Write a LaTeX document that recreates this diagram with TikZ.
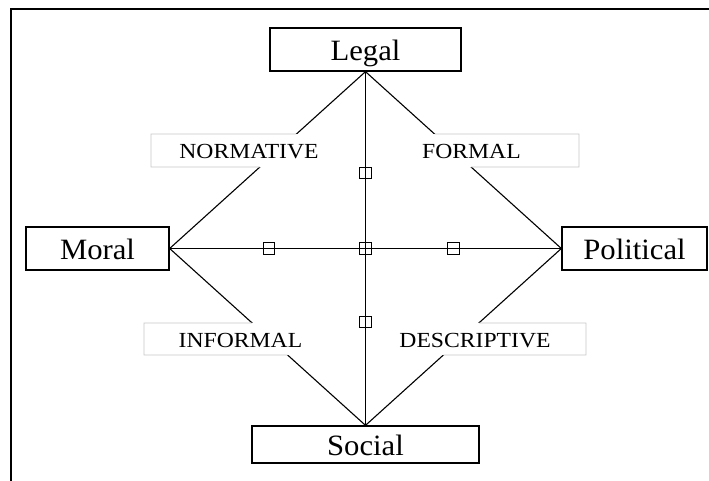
\documentclass[tikz,border=0pt]{standalone}
\usepackage{fontspec}
\setmainfont{Liberation Serif}
\begin{document}
\begin{tikzpicture}[x=1pt,y=-1pt,
  term/.style={draw=black, line width=1.3pt, minimum height=43pt, inner sep=0pt,
    text height=22pt, text depth=0pt, font=\fontsize{29.5}{30}\selectfont},
  link/.style={line width=1.1pt},
  tag/.style={fill=white, inner xsep=2pt, inner ysep=0pt, minimum height=33pt,
    text height=17pt, text depth=0pt, font=\fontsize{21.5}{22}\selectfont},
  tagrule/.style={draw=black!22, line width=0.9pt},
  knot/.style={draw=black, line width=1.1pt, minimum size=11.5pt, inner sep=0pt},
  frame/.style={line width=1.6pt}]

\useasboundingbox (0,0) rectangle (709,481);

% outer frame (top and left edges only)
\draw[frame] (10,9) -- (709,9);
\draw[frame] (11,8.2) -- (11,481);

% the four terms
\node[term, minimum width=191pt] (legal) at (365.5,49.5) {\scalebox{1.04}[1]{Legal}};
\node[term, minimum width=143pt] (moral) at (97.5,248.5) {\scalebox{1.04}[1]{Moral}};
\node[term, minimum width=145pt] (political) at (634.5,248.5) {\scalebox{1.04}[1]{Political}};
\node[term, minimum width=227pt, minimum height=37pt] (social) at (365.5,444.5) {\scalebox{1.04}[1]{Social}};

% connectors
\draw[link] (legal.south) -- (moral.east);
\draw[link] (legal.south) -- (political.west);
\draw[link] (social.north) -- (moral.east);
\draw[link] (social.north) -- (political.west);
\draw[link] (legal.south) -- (social.north)
  node[knot, pos=0.286] (kup) {}
  node[knot, pos=0.708] (kdown) {};
\draw[link] (moral.east) -- (political.west)
  node[knot, pos=0.254] (kleft) {}
  node[knot, pos=0.5] (kmid) {}
  node[knot, pos=0.725] (kright) {};

% edge labels on white ground
\node[tag] (normative) at (249,150.5) {\scalebox{1.1}[1]{NORMATIVE}};
\node[tag] (formal) at (471.5,150.5) {\scalebox{1.1}[1]{FORMAL}};
\node[tag, minimum height=32pt] (informal) at (240.5,339) {\scalebox{1.1}[1]{INFORMAL}};
\node[tag, minimum height=32pt] (descriptive) at (475,339) {\scalebox{1.1}[1]{DESCRIPTIVE}};

% corners of the light label frames
\coordinate (nTL) at (151,134);   \coordinate (nTR) at (340,134);
\coordinate (nBL) at (151,167);   \coordinate (nBR) at (340,167);
\coordinate (fTL) at (390,134);   \coordinate (fTR) at (579,134);
\coordinate (fBL) at (390,167);   \coordinate (fBR) at (579,167);
\coordinate (iTL) at (144,323);   \coordinate (iTR) at (340,323);
\coordinate (iBL) at (144,355);   \coordinate (iBR) at (340,355);
\coordinate (dTL) at (390,323);   \coordinate (dTR) at (586,323);
\coordinate (dBL) at (390,355);   \coordinate (dBR) at (586,355);

% light frames, open where the connector runs behind the label
\draw[tagrule] (intersection of legal.south--moral.east and nTL--nTR) -- (nTL) -- (nBL)
  -- (intersection of legal.south--moral.east and nBL--nBR);
\draw[tagrule] (intersection of legal.south--political.west and fTL--fTR) -- (fTR) -- (fBR)
  -- (intersection of legal.south--political.west and fBL--fBR);
\draw[tagrule] (intersection of social.north--moral.east and iTL--iTR) -- (iTL) -- (iBL)
  -- (intersection of social.north--moral.east and iBL--iBR);
\draw[tagrule] (intersection of social.north--political.west and dTL--dTR) -- (dTR) -- (dBR)
  -- (intersection of social.north--political.west and dBL--dBR);
\end{tikzpicture}
\end{document}
